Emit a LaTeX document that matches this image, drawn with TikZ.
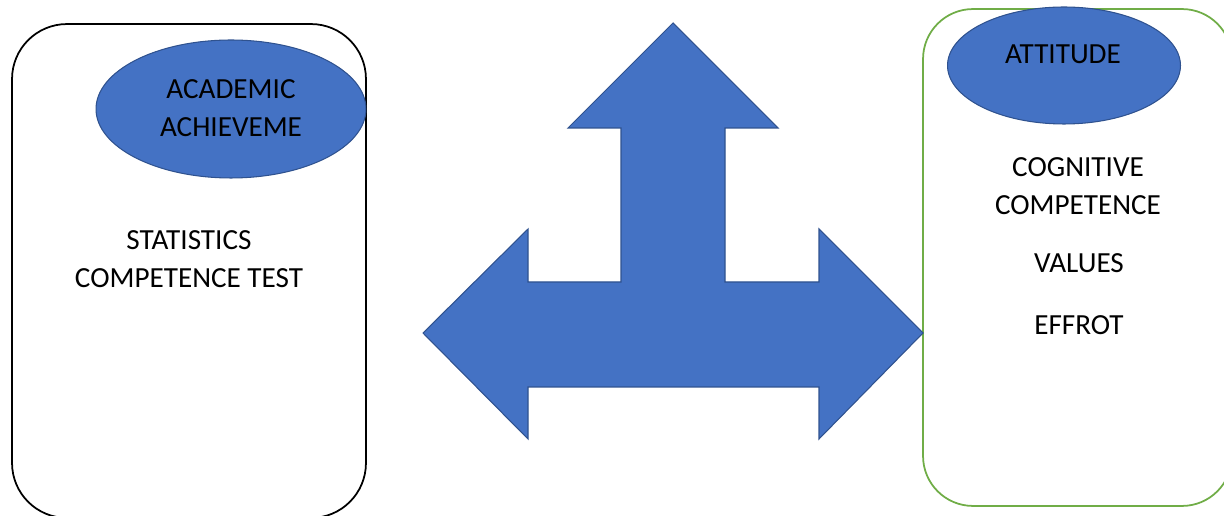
\documentclass[tikz,border=0pt]{standalone}
\usepackage{fontspec}
\setmainfont{Carlito}
\usepackage{tikz}
\usetikzlibrary{shapes.geometric, positioning}
\definecolor{arrowblue}{HTML}{4472C4}
\definecolor{edgeblue}{HTML}{2F528F}
\definecolor{boxgreen}{HTML}{70AD47}

\begin{document}
\begin{tikzpicture}[
    x=0.02cm, y=-0.02cm,
    every node/.style={font=\fontsize{16.6}{21.8}\selectfont},
    frame/.style={rectangle, draw, line width=1pt, inner sep=0pt},
    badge/.style={ellipse, draw=edgeblue, fill=arrowblue, line width=0.6pt, inner sep=0pt},
    lbl/.style={align=center, anchor=base, inner sep=0pt}
]
\useasboundingbox (0,0) rectangle (1224,516);
% the two boxes
\node[frame, draw=black, rounded corners=1.1cm, minimum width=7.08cm, minimum height=9.88cm] (achbox) at (189,271) {};
\node[frame, draw=boxgreen, rounded corners=1cm, minimum width=6.18cm, minimum height=9.94cm] (attbox) at (1077.5,257.5) {};
% the ellipses on top of them
\node[badge, minimum width=5.4cm, minimum height=2.76cm] (achieve) at (231,109) {};
\node[badge, minimum width=4.66cm, minimum height=2.34cm] (attitude) at (1064,65.5) {};
\node[lbl] (achtext) at (231,136.7) {ACADEMIC\\ACHIEVEME};
\node[lbl] (atttext) at (1063,64) {ATTITUDE};
% box contents
\node[lbl] (stat) at (189,288) {STATISTICS\\COMPETENCE TEST};
\node[lbl] (cog) at (1078,215) {COGNITIVE\\COMPETENCE};
\node[lbl] (val) at (1079,273) {VALUES};
\node[lbl] (eff) at (1079,335) {EFFROT};
% three-way arrow
\draw[fill=arrowblue, draw=edgeblue, line width=0.6pt, line join=miter]
    (673,23) -- (778,128) -- (725,128) -- (725,282) -- (819,282) -- (819,229)
    -- (923,333) -- (819,439) -- (819,387) -- (528,387) -- (528,439)
    -- (423,333) -- (528,229) -- (528,282) -- (621,282) -- (621,128)
    -- (568,128) -- cycle;
\end{tikzpicture}
\end{document}
